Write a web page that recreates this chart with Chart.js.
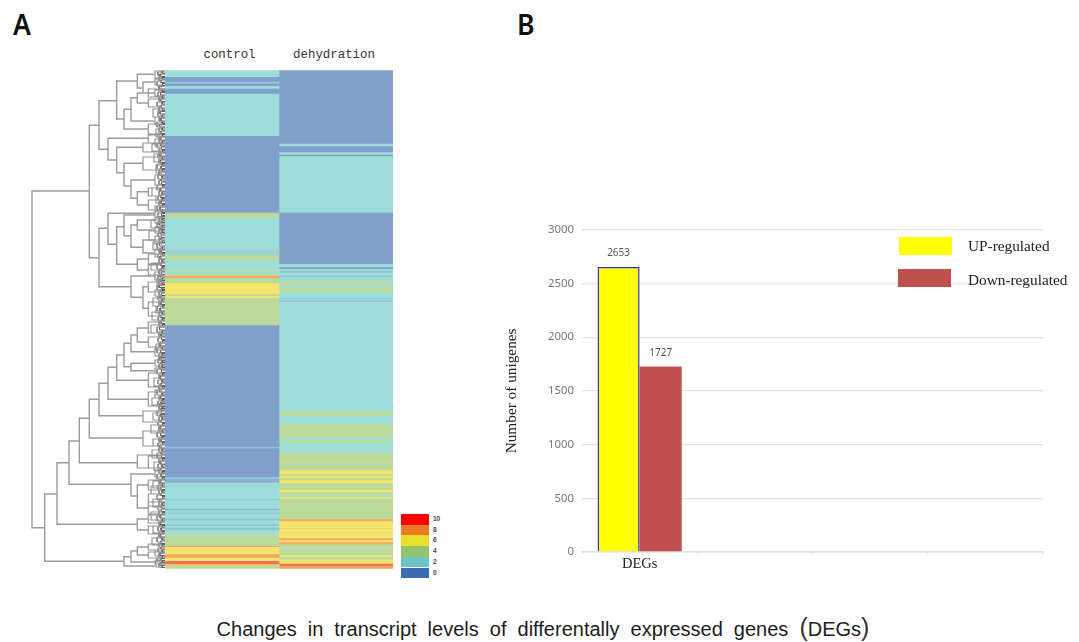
<!DOCTYPE html>
<html>
<head>
<meta charset="utf-8">
<title>DEGs</title>
<script src="https://cdn.jsdelivr.net/npm/chart.js@4/dist/chart.umd.min.js"></script>
<style>
  html, body { margin: 0; padding: 0; background: #fff; }
  #page { position: relative; width: 1079px; height: 642px; overflow: hidden; }
  #page canvas, .txt, .swatch { position: absolute; }
  .panel { font: 600 29px "Noto Sans", sans-serif; color: #111; top: 4px; transform: scaleX(.92); transform-origin: left; }
  .legendTxt { font: 15.3px "Liberation Serif", serif; color: #222; white-space: nowrap; }
  .scaleTxt { font: bold 6.5px "Liberation Sans", sans-serif; color: #444; }
  .colTxt { font: 12.4px "Liberation Mono", monospace; color: #333; transform: translateX(-50%); white-space: nowrap; }
  #caption { left: 0; width: 1086px; top: 618px; text-align: center; font: 20px "Liberation Sans", sans-serif; color: #1c1c1c; word-spacing: 5.5px; white-space: nowrap; }
  #caption span { font-size: 25px; font-weight: 300; line-height: 19px; color: #333; }
</style>
</head>
<body>
<div id="page">
  <div class="txt panel" style="left:13px">A</div>
  <div class="txt panel" style="left:517px">B</div>
  <canvas id="dendro"></canvas>
  <canvas id="heat"></canvas>
  <canvas id="bars"></canvas>
  <div class="txt" id="caption">Changes in transcript levels of differentally expressed genes <span>(</span>DEGs<span>)</span></div>
</div>
<script>
// heatmap, bands run top to bottom: row where each band ends + its level
const heatColumns = ['control', 'dehydration'];
const heatStart = 0.7;
const controlEnds = [6.7, 11.3, 13.3, 15.7, 18.3, 23.3, 65.7, 142.3, 147.3, 178.3, 179.3, 184.3, 190, 198.3, 201.7, 203.3, 205.7, 207.7, 212.7, 224, 225.7, 227.7, 255, 376.7, 378, 406.7, 409, 412.3, 429, 430, 438.3, 440, 442.3, 443.3, 448.3, 450, 454, 455.7, 457.3, 459.3, 461.7, 466, 475.7, 476.7, 484, 487.3, 490.7, 494, 495.3, 498.3];
const controlLevels = [2, 0, 1, 0, 2, 0, 2, 0, 4, 2, 3, 1.5, 4, 2, 3, 2, 4, 8, 4, 6, 4, 6, 4, 0, 1, 0, 1, 0.5, 2, 1, 2, 0.5, 2, 1, 2, 1, 2, 1, 2, 1, 2, 3, 4, 8, 6, 8, 6, 9, 7, 4];
const dehydEnds = [73.3, 76, 82, 84.3, 86, 142.3, 193.7, 197, 198.7, 200.7, 202.3, 205.3, 206.7, 210.7, 215, 217, 221.7, 227.3, 228.3, 230, 231.7, 340.7, 345, 353.7, 367, 369.3, 372.3, 377, 379, 382.3, 392, 392.7, 400, 404, 405.3, 408, 410, 413, 419.3, 422, 424.3, 426.7, 428, 449, 451, 458, 458.7, 468, 470, 472, 474, 475.3, 485, 486.7, 489.3, 493.3, 495.7, 498.3];
const dehydLevels = [0, 2, 0, 2, 0, 2, 0, 2, 0, 2, 1, 2, 1, 2, 4, 2, 4, 2, 1, 2, 1, 2, 4, 2, 4, 2, 4, 2, 3, 2, 4, 5, 4, 6, 4, 6, 4, 6, 4, 6, 4, 3, 6, 4, 8, 6, 7, 6, 8, 6, 8, 4, 4, 6, 4, 6, 9, 8];
const levelColors = { 0: '#819FCB', 0.5: '#8AB0D0', 1: '#92C4D8', 1.5: '#98D2D9', 2: '#9CDDD9', 3: '#ACDCC2', 4: '#BBD99A', 5: '#D3DE86', 6: '#F2E56E', 7: '#F5CE6C', 8: '#F3A65E', 9: '#F2755A' };

// colour key next to the heatmap
const scaleLabels = ['10', '8', '6', '4', '2', '0'];
const scaleColors = ['#FF0000', '#E97B25', '#E8E02A', '#90C46E', '#6CC4C4', '#3C6DB0'];

// dendrogram: [distance, top row, bottom row, distance of top child, distance of bottom child]
const majorMerges = [
  [133, 121, 457.7, 75.7, 120.3], [75.7, 55.3, 187.7, 66, 66], [66, 30.7, 79.3, 48.3, 57], [66, 158.3, 216.7, 57, 34],
  [48.3, 11, 49, 27.7, 41], [27.7, 4.3, 18, 10, 22], [22, 12, 23, 10, 10], [41, 39.3, 59, 34, 16.7],
  [34, 27.7, 51, 27.7, 10], [27.7, 23, 33, 16.7, 16.7], [57, 68.3, 90, 16.7, 48.3], [48.3, 77.3, 102.7, 22, 41],
  [41, 93.3, 116, 22, 34], [34, 110, 128.3, 10, 27.7], [27.7, 121.7, 135, 16.7, 16.7], [57, 143.3, 174.3, 10, 48.3],
  [48.3, 156.7, 194.3, 41, 27.7], [41, 145, 165.7, 10, 34], [34, 155, 177.3, 27.7, 22], [27.7, 150, 160, 10, 10],
  [22, 170, 183, 10, 10], [27.7, 189, 200, 16.7, 16.7], [34, 206, 227.3, 10, 22], [22, 216.7, 238.3, 16.7, 16.7],
  [120.3, 424, 491.3, 108, 41], [108, 392.7, 454.3, 96, 27.7], [96, 371, 414.3, 85.7, 34], [85.7, 348.3, 392.7, 75.7, 27.7],
  [75.7, 329.3, 368, 66, 22], [66, 313.3, 345.7, 57, 22], [57, 297.3, 329.3, 48.3, 16.7], [48.3, 285, 310.3, 41, 16.7],
  [41, 273.3, 296.7, 34, 34], [34, 265, 281.7, 27.7, 10], [27.7, 258, 272, 16.7, 16.7], [34, 293.3, 300.7, 10, 10],
  [34, 404, 426, 10, 27.7], [27.7, 415, 438, 16.7, 16.7], [27.7, 449, 460, 16.7, 16.7], [41, 486.7, 496, 34, 10],
  [34, 481, 492, 27.7, 10], [27.7, 477, 485, 16.7, 16.7]
];
// smaller clusters: [distance, top row, bottom row]
const twigMerges = [
  [10, 1, 8], [10, 9, 15], [10, 20, 26], [16.7, 19, 27], [16.7, 29, 37], [12, 39, 47], [10, 47, 55], [16.7, 54, 64], [9, 59, 67],
  [16.7, 65, 73], [22, 73, 82], [10, 69, 76], [13, 74, 81], [11, 84, 92], [22, 87, 100], [9, 95, 103], [10, 105, 115], [16.7, 118, 126], [13, 118, 126], [9, 126, 133], [16.7, 130, 140], [10, 136, 142],
  [10, 142, 148], [10, 147, 153], [14, 150, 158], [10, 157, 163], [16, 161, 170], [10, 166, 174], [12, 172, 180], [10, 179, 187], [16.7, 184, 194], [14, 193, 200], [16.7, 195, 205],
  [10, 202, 210], [8, 209, 214], [16.7, 212, 222], [10, 220, 226], [12, 228, 236], [16.7, 232, 246], [9, 236, 243], [13, 242, 250], [16.7, 252, 263], [14, 255, 263], [16.7, 267, 277],
  [9, 274, 280], [10, 277, 286], [10, 290, 296], [10, 298, 303], [16.7, 303, 317], [11, 308, 316], [16.7, 322, 336], [10, 320, 328], [13, 328, 335],
  [22, 341, 352], [12, 343, 350], [14, 355, 363], [22, 361, 376], [12, 369, 376], [27.7, 385, 398], [13, 380, 388], [16.7, 386, 398], [11, 392, 400],
  [10, 401, 407], [16.7, 410, 420], [12, 411, 418], [14, 416, 424], [16.7, 424, 436], [16.7, 432, 444], [12, 429, 437], [16.7, 445, 453], [14, 442, 450], [16.7, 456, 464], [12, 456, 463],
  [13, 468, 475], [16.7, 474, 480], [16.7, 482, 488], [10, 480, 486], [10, 490, 494], [9, 491, 497]
];
// denser brackets just above the leaves
const fineMerges = [
  [7, 2, 6], [6, 7, 11], [8, 11, 16], [6, 17, 21], [7, 22, 26], [6, 27, 31], [8, 32, 36], [6, 37, 41], [7, 41, 46], [6, 47, 51], [8, 52, 57], [6, 58, 62], [7, 63, 67], [6, 68, 72], [8, 73, 78], [6, 79, 83], [7, 84, 88], [6, 89, 93], [8, 94, 99], [6, 100, 104],
  [7, 105, 109], [6, 110, 114], [8, 115, 120], [6, 121, 125], [7, 126, 130], [6, 131, 135], [8, 136, 141], [7, 143, 147], [6, 148, 152], [8, 152, 157], [6, 158, 162], [7, 163, 167], [6, 168, 172], [8, 173, 178], [6, 179, 183], [7, 184, 188], [6, 189, 193], [8, 194, 199], [6, 200, 204],
  [7, 205, 209], [6, 210, 214], [8, 215, 220], [6, 221, 225], [7, 226, 230], [6, 231, 235], [8, 236, 241], [6, 242, 246], [7, 247, 251], [6, 252, 256], [8, 257, 262], [6, 263, 267], [7, 268, 272], [6, 273, 277], [8, 278, 283], [6, 284, 288], [7, 289, 293], [6, 294, 298], [8, 299, 304],
  [6, 305, 309], [7, 310, 314], [6, 315, 319], [8, 320, 325], [6, 326, 330], [7, 331, 335], [6, 336, 340], [8, 341, 346], [6, 347, 351], [7, 352, 356], [6, 357, 361], [8, 362, 367], [6, 368, 372], [7, 373, 377], [6, 378, 382], [8, 383, 388], [6, 389, 393], [7, 394, 398], [6, 399, 403],
  [8, 404, 409], [6, 410, 414], [7, 415, 419], [6, 420, 424], [8, 425, 430], [6, 431, 435], [7, 436, 440], [6, 441, 445], [8, 446, 451], [6, 452, 456], [7, 457, 461], [6, 462, 466], [8, 467, 472], [6, 473, 477], [7, 478, 482], [6, 483, 487], [8, 488, 492], [6, 493, 497]
];
// leaf level pairs: [top row, bottom row, distance]
const leafPairs = [
  [1, 3, 3], [4, 6.5, 5], [7.5, 9, 3], [10, 12.5, 4], [13.5, 15.5, 2.5], [16, 19, 6], [20, 21.5, 3], [22.5, 25, 4.5], [26, 28, 3], [29, 31.5, 5], [32, 34, 3], [35, 38, 4], [39, 40.5, 2.5], [41.5, 44, 5], [45, 47, 3], [48, 51, 4],
  [52, 53.5, 3], [54.5, 57, 5.5], [58, 60, 3], [61, 63.5, 4], [64.5, 66, 2.5], [67, 70, 5], [71, 73, 3], [74, 76, 4], [77, 79.5, 3.5], [80.5, 82, 2.5], [83, 86, 5], [87, 89, 3], [90, 92.5, 4.5], [93.5, 95, 3], [96, 98.5, 4], [99.5, 101, 2.5],
  [102, 105, 6], [106, 108, 3], [109, 111, 4], [112, 114.5, 3.5], [115.5, 117, 2.5], [118, 121, 5], [122, 124, 3], [125, 127.5, 4.5], [128.5, 130, 3], [131, 133.5, 4], [134.5, 136, 2.5], [137, 140, 5], [141, 142.5, 3],
  [143.5, 145.5, 3.5], [146.5, 148, 5], [148.5, 150, 3], [151, 152.5, 4], [153, 155, 6], [155.5, 157, 3], [158, 159.5, 4.5], [160, 162, 3], [162.5, 164, 5], [165, 167.5, 3.5], [168, 170, 4], [171, 172.5, 2.5], [173, 176, 5.5], [177, 179, 3], [180, 182.5, 4],
  [183.5, 185, 2.5], [186, 189, 5], [190, 192, 3], [193, 195.5, 4.5], [196.5, 198, 3], [199, 201, 4], [202, 204.5, 3.5], [205, 207, 5], [208, 210, 3], [210.5, 212, 4], [213, 214.5, 3], [215, 217.5, 6], [218, 219.5, 3], [220.5, 222, 4.5], [223, 225.5, 3.5], [226, 228, 5],
  [229, 231, 3], [232, 234.5, 4], [235.5, 237, 2.5], [238, 241, 5], [242, 244, 3], [245, 247.5, 4.5], [248.5, 250, 3], [251, 253.5, 4], [254.5, 256, 2.5], [257, 260, 5.5], [261, 263, 3], [264, 266, 4], [267, 269.5, 3.5], [270.5, 272, 2.5],
  [273, 276, 5], [277, 279, 3], [280, 282.5, 4.5], [283.5, 285, 3], [286, 287.5, 4], [288, 290, 6], [290.5, 292, 3], [292.5, 294, 4.5], [295, 297, 3], [297.5, 299, 5], [300, 302.5, 3.5], [303.5, 305, 2.5], [306, 309, 5], [310, 312, 3],
  [313, 315.5, 4], [316.5, 318, 2.5], [319, 322, 5.5], [323, 325, 3], [326, 328.5, 4.5], [329.5, 331, 3], [332, 333.5, 4], [334, 336, 6], [336.5, 338, 3], [338.5, 340, 4], [341, 343.5, 3.5], [344.5, 346, 5], [347, 349, 3], [350, 352.5, 4], [353.5, 355, 2.5],
  [356, 359, 5], [360, 362, 3], [363, 365.5, 4.5], [366.5, 368, 3], [369, 371.5, 4], [372.5, 374, 2.5], [375, 378, 5.5], [379, 381, 3], [382, 384, 4], [385, 387.5, 3.5], [388.5, 390, 2.5], [391, 394, 5], [395, 397, 3], [398, 400.5, 4.5],
  [401.5, 403, 3], [404, 406.5, 4], [407.5, 409, 2.5], [410, 413, 5], [414, 416, 3], [417, 419.5, 4.5], [420.5, 422, 3], [423, 425.5, 4], [426.5, 428, 2.5], [429, 432, 5.5], [433, 435, 3], [436, 438, 4], [439, 441.5, 3.5], [442.5, 444, 2.5],
  [445, 448, 5], [449, 451, 3], [452, 454.5, 4.5], [455.5, 457, 3], [458, 460.5, 4], [461.5, 463, 2.5], [464, 467, 5], [468, 470, 3], [471, 473.5, 4.5], [474.5, 476, 3], [477, 479, 4], [480, 482, 3], [483, 485.5, 5], [486, 488, 3], [488.5, 490.5, 4], [491, 492.5, 3], [493, 495, 5], [495.5, 497.5, 3]
];

// bar chart
const barCategories = ['DEGs', '', '', ''];
const upValues = [2653, null, null, null];
const downValues = [1727, null, null, null];
const upLabel = 'UP-regulated';
const downLabel = 'Down-regulated';
const yTicks = [0, 500, 1000, 1500, 2000, 2500, 3000];

const YELLOW = '#FFFF00';
const RED = '#C0504D';

const page = document.getElementById('page');

function placeCanvas(id, left, top, width, height) {
  const canvas = document.getElementById(id);
  canvas.style.left = left + 'px';
  canvas.style.top = top + 'px';
  canvas.style.width = width + 'px';
  canvas.style.height = height + 'px';
  canvas.width = width;
  canvas.height = height;
  return canvas;
}

function addText(cls, text, left, top) {
  const el = document.createElement('div');
  el.className = 'txt ' + cls;
  el.textContent = text;
  el.style.left = left + 'px';
  el.style.top = top + 'px';
  page.appendChild(el);
}

function addSwatch(color, left, top, width, height) {
  const el = document.createElement('div');
  el.className = 'swatch';
  el.style.cssText = `left:${left}px;top:${top}px;width:${width}px;height:${height}px;background:${color}`;
  page.appendChild(el);
}

function elbowPoints(merges) {
  const pts = [];
  merges.forEach(m => {
    const childTop = m.length > 3 ? m[3] : 3;
    const childBot = m.length > 3 ? m[4] : 3;
    pts.push({ x: childTop, y: m[1] }, { x: m[0], y: m[1] }, { x: m[0], y: m[2] }, { x: childBot, y: m[2] }, { x: null, y: null });
  });
  return pts;
}

function leafPoints(pairs) {
  const pts = [];
  pairs.forEach(p => {
    pts.push({ x: 0, y: p[0] }, { x: p[2], y: p[0] }, { x: p[2], y: p[1] }, { x: 0, y: p[1] }, { x: null, y: null });
  });
  return pts;
}

function dendroDataset(data, color, width) {
  return { data, borderColor: color, borderWidth: width, pointRadius: 0, showLine: true, tension: 0, spanGaps: false, clip: false };
}

new Chart(placeCanvas('dendro', 25, 70, 140, 500), {
  type: 'scatter',
  data: {
    datasets: [
      dendroDataset(elbowPoints(majorMerges), '#9c9c9c', 1.4),
      dendroDataset(elbowPoints(twigMerges), '#949494', 1.2),
      dendroDataset(elbowPoints(fineMerges), '#8a8a8a', 1),
      dendroDataset(leafPoints(leafPairs), '#5e5e5e', 1)
    ]
  },
  options: {
    responsive: false,
    animation: false,
    layout: { padding: 0 },
    plugins: { legend: { display: false }, tooltip: { enabled: false } },
    scales: {
      x: { display: false, reverse: true, min: 0, max: 140 },
      y: { display: false, reverse: true, min: 0, max: 500 }
    }
  }
});

function bandDatasets(ends, levels, columnIndex) {
  let start = heatStart;
  return ends.map((end, i) => {
    const data = [null, null];
    data[columnIndex] = [start, end];
    start = end;
    return { data, backgroundColor: levelColors[levels[i]], borderWidth: 0, grouped: false, barPercentage: 1, categoryPercentage: 1 };
  });
}

new Chart(placeCanvas('heat', 165, 70, 228, 500), {
  type: 'bar',
  data: {
    labels: heatColumns,
    datasets: bandDatasets(controlEnds, controlLevels, 0).concat(bandDatasets(dehydEnds, dehydLevels, 1))
  },
  options: {
    responsive: false,
    animation: false,
    layout: { padding: 0 },
    plugins: { legend: { display: false }, tooltip: { enabled: false } },
    scales: {
      x: { display: false },
      y: { display: false, reverse: true, min: 0, max: 500 }
    }
  }
});
addText('colTxt', heatColumns[0], 229.5, 48);
addText('colTxt', heatColumns[1], 334, 48);

// colour key
scaleLabels.forEach((label, i) => {
  addSwatch(scaleColors[i], 401, 514 + i * 10.7, 28, 10.7);
  addText('scaleTxt', label, 433, 514 + i * 10.7 + 1);
});

const barValueLabels = {
  id: 'barValueLabels',
  afterDatasetsDraw(chart) {
    const ctx = chart.ctx;
    ctx.save();
    ctx.fillStyle = '#555';
    ctx.font = '10px "Noto Sans", sans-serif';
    ctx.textAlign = 'center';
    chart.data.datasets.forEach((ds, i) => {
      const bar = chart.getDatasetMeta(i).data[0];
      ctx.fillText(ds.data[0], bar.x, bar.y - 11);
    });
    ctx.restore();
  }
};

new Chart(placeCanvas('bars', 503, 215, 576, 360), {
  type: 'bar',
  data: {
    labels: barCategories,
    datasets: [
      { label: upLabel, data: upValues, backgroundColor: YELLOW, borderColor: '#2B2FD6', borderWidth: { left: 1.5, top: 1.5, right: 1.5, bottom: 0 }, borderSkipped: false },
      { label: downLabel, data: downValues, backgroundColor: RED, borderWidth: 0 }
    ]
  },
  options: {
    responsive: false,
    animation: false,
    layout: { padding: { top: 9, right: 36, left: 0, bottom: 0 } },
    datasets: { bar: { categoryPercentage: 0.73, barPercentage: 1 } },
    plugins: { legend: { display: false }, tooltip: { enabled: false } },
    scales: {
      x: {
        afterFit: s => { s.height = 23; },
        grid: { drawOnChartArea: false, drawTicks: true, tickLength: 2, color: '#dcdcdc' },
        border: { color: '#dedede', width: 1.5 },
        ticks: { color: '#222', padding: 1, maxRotation: 0, font: { family: '"Liberation Serif", serif', size: 14.5 } }
      },
      y: {
        min: 0,
        max: 3000,
        afterFit: s => { s.width = 79; },
        afterBuildTicks: s => { s.ticks = yTicks.map(v => ({ value: v })); },
        grid: { color: '#e4e4e4', lineWidth: 1.3, drawTicks: false },
        border: { display: false },
        ticks: { color: '#777', padding: 8, callback: v => String(v), font: { family: '"Noto Sans", sans-serif', size: 11.4 } },
        title: { display: true, text: 'Number of unigenes', color: '#222', padding: { top: 0, bottom: 0 }, font: { family: '"Liberation Serif", serif', size: 15.3 } }
      }
    }
  },
  plugins: [barValueLabels]
});

addSwatch(YELLOW, 899, 237, 53, 18);
addSwatch(RED, 898, 269, 53, 18);
addText('legendTxt', upLabel, 968, 237);
addText('legendTxt', downLabel, 968, 271);
</script>
</body>
</html>
